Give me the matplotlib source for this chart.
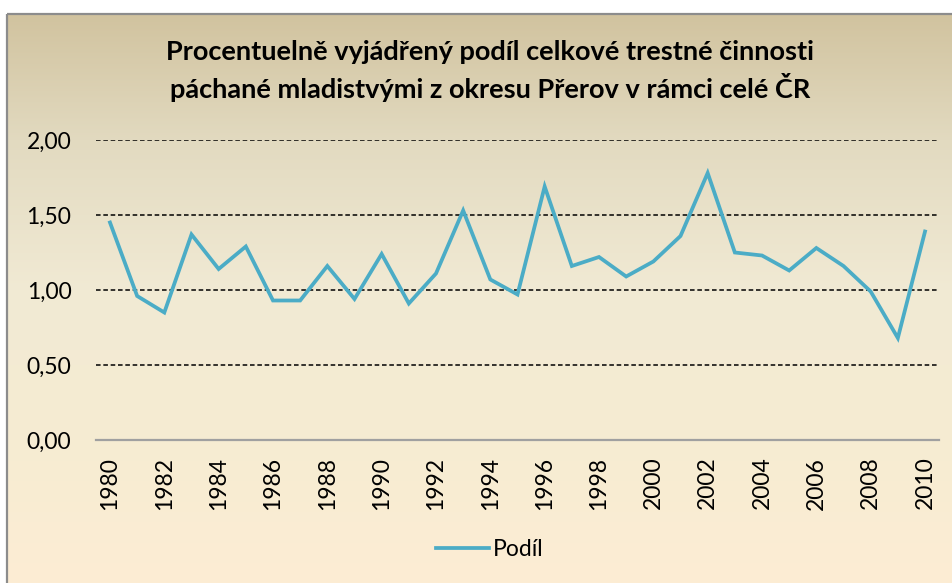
import matplotlib.pyplot as plt
import numpy as np
from matplotlib.patches import Rectangle
from matplotlib.ticker import FuncFormatter

# Share of juvenile crime in the Přerov district relative to the whole Czech Republic (%)
years = list(range(1980, 2011))
podil = [1.45, 0.96, 0.85, 1.37, 1.14, 1.29, 0.93, 0.93, 1.16, 0.94,
         1.24, 0.91, 1.11, 1.53, 1.07, 0.97, 1.69, 1.16, 1.22, 1.09,
         1.19, 1.36, 1.78, 1.25, 1.23, 1.13, 1.28, 1.16, 0.99, 0.68,
         1.39]
title = ('Procentuelně vyjádřený podíl celkové trestné činnosti\n'
         'páchané mladistvými z okresu Přerov v rámci celé ČR')

W, H = 952, 583
fig = plt.figure(figsize=(W / 100, H / 100), dpi=100)
fig.patch.set_facecolor('white')

# gradient background of the chart area (pixel rows top -> bottom)
bg = fig.add_axes([0, 0, 1, 1], zorder=-1)
bg.set_xlim(0, W)
bg.set_ylim(H, 0)
bg.axis('off')
stops_y = [14, 140, 290, 440, 583]
stops_c = np.array([[209, 195, 159], [226, 218, 192], [241, 234, 212],
                    [246, 236, 210], [253, 237, 212]]) / 255.0
rows = np.arange(14, H)
grad = np.stack([np.interp(rows, stops_y, stops_c[:, k]) for k in range(3)], axis=-1)
bg.imshow(grad[:, None, :], extent=[7, W, H, 14], aspect='auto', interpolation='bilinear')
bg.add_patch(Rectangle((7, 14), W + 10, H, fill=False, edgecolor='#8c8c8c', linewidth=1.6))

font = 'Lato'
ax = fig.add_axes([96.4 / W, 1 - 440 / H, (938.6 - 96.4) / W, 300 / H])
ax.set_facecolor('none')

x = np.arange(len(years))
ax.plot(x, podil, color='#4bacc6', linewidth=2.7, solid_joinstyle='miter', label='Podíl', zorder=3)

ax.set_xlim(-0.5, len(years) - 0.5)
ax.set_ylim(0, 2.0)
ax.set_yticks([0, 0.5, 1.0, 1.5, 2.0])
ax.yaxis.set_major_formatter(FuncFormatter(lambda v, _: f'{v:.2f}'.replace('.', ',')))
ax.set_xticks(x[::2])
ax.set_xticklabels([str(y) for y in years[::2]], rotation=90)

for v in [0.5, 1.0, 1.5, 2.0]:
    ax.axhline(v, color='black', linewidth=1.1, dashes=(3.0, 1.8), zorder=1)

for side in ['top', 'right', 'left']:
    ax.spines[side].set_visible(False)
ax.spines['bottom'].set_color('#a0a0a0')
ax.spines['bottom'].set_linewidth(1.6)
ax.tick_params(axis='y', length=0, pad=18, labelsize=16.5)
ax.tick_params(axis='x', length=0, pad=12, labelsize=16.5)
for lab in ax.get_xticklabels() + ax.get_yticklabels():
    lab.set_fontfamily(font)

fig.text(490 / W, 1 - 71 / H, title, ha='center', va='center', fontsize=19.5,
         fontweight='bold', family=font, linespacing=1.35)

leg = ax.legend(loc='center', bbox_to_anchor=(490 / W, 1 - 550 / H),
                bbox_transform=fig.transFigure, frameon=False,
                prop={'family': font, 'size': 16.5}, handlelength=2.3, handletextpad=0.2)

fig.savefig('out.png', dpi=100)
